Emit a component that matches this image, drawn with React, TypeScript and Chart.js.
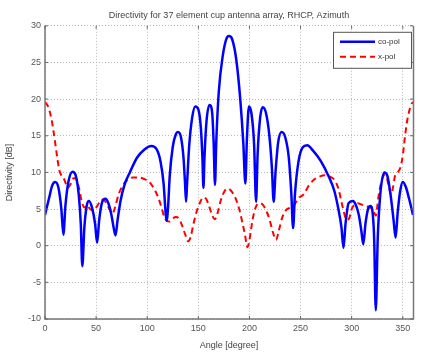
import React, { useEffect, useRef } from "react";
import { Chart, registerables } from "chart.js";

Chart.register(...registerables);

const titleText = "Directivity for 37 element cup antenna array, RHCP, Azimuth";
const xLabel = "Angle [degree]";
const yLabel = "Directivity [dB]";
const xTicks = [0, 50, 100, 150, 200, 250, 300, 350];
const yTicks = [-10, -5, 0, 5, 10, 15, 20, 25, 30];

const coAngles = [0, 4, 7, 10, 13, 16, 18, 20, 23, 27, 30, 33, 35, 36.5, 38.5, 41, 43, 46, 49, 51, 53, 56, 59, 62, 65, 67.5, 69, 71, 74, 78, 83, 90, 97, 104, 109, 113, 116, 118, 119, 120.5, 122, 125, 128, 130, 133, 135.5, 137, 138, 139, 141, 144, 147, 150, 152.5, 154, 155, 156, 158, 161, 163.5, 165, 166.3, 167.5, 170, 174, 178, 180, 183, 187, 191, 194, 196, 197.5, 199.5, 202, 204.5, 206.5, 208, 210.5, 213, 216, 219.5, 222, 223.7, 225.5, 228, 231.5, 235, 238.5, 241, 242.7, 244.5, 248, 252, 256.5, 262, 270, 278, 283, 287, 290, 292, 294, 297, 301, 304, 307, 309.5, 311.4, 313.5, 316, 318.5, 320.5, 322, 323.6, 325.5, 328, 332, 335, 338, 341, 343, 345, 347.5, 350, 353, 356, 360];
const coValues = [4.2, 6.5, 8.2, 8.7, 8.0, 5.0, 1.5, 5.5, 8.8, 10.1, 9.6, 7.0, 3.0, -2.8, 2.5, 5.6, 6.1, 5.2, 3.0, 0.4, 3.5, 6.0, 6.4, 5.8, 4.2, 2.2, 1.4, 3.5, 6.2, 8.4, 10.0, 12.0, 13.1, 13.6, 13.2, 11.5, 8.5, 4.5, 3.4, 5.5, 9.5, 13.5, 15.2, 15.5, 14.8, 12.0, 8.5, 6.0, 8.5, 13.5, 17.5, 19.0, 18.6, 16.0, 12.0, 7.9, 12.0, 17.0, 19.2, 18.2, 14.0, 8.3, 14.0, 21.0, 26.0, 28.4, 28.6, 28.2, 25.5, 20.0, 14.0, 8.5, 14.5, 19.0, 18.0, 14.0, 6.0, 12.5, 17.5, 18.9, 18.2, 15.0, 10.5, 6.0, 10.0, 14.0, 15.5, 14.8, 12.0, 7.0, 2.4, 7.0, 11.5, 13.4, 13.7, 13.0, 11.5, 9.3, 7.5, 5.0, 2.5, -0.3, 3.0, 5.8, 6.1, 5.6, 4.2, 2.0, 0.2, 3.0, 5.0, 5.4, 4.5, 1.0, -8.8, 1.0, 7.0, 10.0, 9.5, 7.0, 3.5, 1.1, 4.5, 7.5, 8.7, 8.0, 6.5, 4.2];

const xpAngles = [0, 3, 6, 8, 10, 12, 14, 16, 18, 20, 22.5, 25, 28, 30, 33, 36, 38.5, 41, 44, 47.5, 51, 54, 57, 60, 63, 66, 68.5, 72, 76, 80, 86, 92, 97, 102, 107, 111, 114, 116.5, 119, 122, 125, 128, 131, 134, 137, 140, 142.5, 145, 148, 152, 155, 158, 161, 164, 166, 168.5, 172, 175.5, 178.5, 182, 186, 190, 193, 195.5, 198, 200.5, 203, 206, 209.5, 213, 217, 220, 223, 226, 229, 232, 236, 240, 244, 248, 253, 258, 263, 268, 274, 279, 283, 287, 290, 292.5, 295, 297.5, 300, 303, 306, 310, 314, 318, 321, 323.6, 326, 329, 332, 334, 336.5, 338.5, 340.5, 342.5, 345, 347.5, 350, 352, 354, 356, 358, 360];
const xpValues = [19.6, 19.0, 17.5, 15.9, 14.0, 12.0, 10.3, 9.6, 9.3, 8.6, 7.9, 8.4, 9.2, 9.2, 8.0, 6.0, 5.2, 5.5, 5.0, 4.8, 5.4, 6.1, 6.3, 5.8, 5.0, 4.4, 5.2, 7.0, 8.2, 8.9, 9.3, 9.3, 9.1, 8.7, 7.7, 6.5, 5.2, 4.0, 3.4, 3.3, 3.7, 3.9, 3.7, 2.8, 1.6, 0.6, 1.2, 2.8, 4.5, 6.0, 6.6, 6.3, 5.2, 4.0, 3.6, 4.3, 6.2, 7.4, 7.8, 7.5, 6.6, 5.0, 3.2, 1.6, -0.2, 1.2, 3.5, 5.2, 5.8, 5.6, 4.6, 3.4, 1.8, 0.8, 2.2, 3.8, 4.9, 5.2, 5.6, 6.5, 7.0, 8.2, 9.0, 9.4, 9.6, 9.4, 9.0, 7.8, 6.0, 4.5, 3.5, 3.7, 5.0, 5.6, 5.8, 5.6, 5.4, 5.2, 4.9, 4.1, 6.5, 8.7, 9.6, 9.4, 8.0, 7.0, 8.0, 9.6, 10.0, 10.6, 12.3, 14.7, 16.8, 18.2, 19.2, 19.6];

const seriesNames = ["co-pol", "x-pol"];

const FONT = "'Liberation Sans', Arial, sans-serif";

export default function App() {
  const ref = useRef<HTMLCanvasElement | null>(null);

  useEffect(() => {
    document.body.style.margin = "0";
    const canvas = ref.current;
    if (!canvas) return;

    const framePlugin = {
      id: "frame",
      afterDatasetsDraw(chart: any) {
        const { ctx, chartArea } = chart;
        const { left, right, top, bottom } = chartArea;
        ctx.save();
        ctx.setLineDash([]);
        ctx.strokeStyle = "#777";
        ctx.lineWidth = 1.5;
        ctx.beginPath();
        ctx.moveTo(left, top);
        ctx.lineTo(left, bottom);
        ctx.lineTo(right + 0.5, bottom);
        ctx.lineTo(right + 0.5, top);
        ctx.stroke();
        // small inward tick marks
        ctx.lineWidth = 1;
        ctx.strokeStyle = "#666";
        const xs = chart.scales.x;
        const ys = chart.scales.y;
        xTicks.forEach((v) => {
          const px = xs.getPixelForValue(v);
          ctx.beginPath();
          ctx.moveTo(px, bottom);
          ctx.lineTo(px, bottom - 3);
          ctx.moveTo(px, top);
          ctx.lineTo(px, top + 3);
          ctx.stroke();
        });
        yTicks.forEach((v) => {
          const py = ys.getPixelForValue(v);
          ctx.beginPath();
          ctx.moveTo(left, py);
          ctx.lineTo(left + 3, py);
          ctx.moveTo(right, py);
          ctx.lineTo(right - 3, py);
          ctx.stroke();
        });
        ctx.restore();
      },
    };

    const legendPlugin = {
      id: "legendBox",
      afterDraw(chart: any) {
        const { ctx, chartArea } = chart;
        const x0 = chartArea.right - 80;
        const y0 = chartArea.top + 6;
        const w = 78;
        const h = 36;
        ctx.save();
        ctx.fillStyle = "#fff";
        ctx.fillRect(x0, y0, w, h);
        ctx.strokeStyle = "#555";
        ctx.lineWidth = 1;
        ctx.strokeRect(x0 + 0.5, y0 + 0.5, w, h);
        const items = [
          { color: "#0000ff", dash: [] as number[], width: 2.5 },
          { color: "#ff0000", dash: [6, 4], width: 2 },
        ];
        items.forEach((it, i) => {
          const yy = y0 + 10 + i * 15;
          ctx.strokeStyle = it.color;
          ctx.lineWidth = it.width;
          ctx.setLineDash(it.dash);
          ctx.beginPath();
          ctx.moveTo(x0 + 7, yy);
          ctx.lineTo(x0 + 42, yy);
          ctx.stroke();
          ctx.setLineDash([]);
          ctx.fillStyle = "#333";
          ctx.font = `8px ${FONT}`;
          ctx.textBaseline = "middle";
          ctx.fillText(seriesNames[i], x0 + 45, yy);
        });
        ctx.restore();
      },
    };

    const chart = new Chart(canvas, {
      type: "line",
      data: {
        datasets: [
          {
            label: seriesNames[0],
            data: coAngles.map((a, i) => ({ x: a, y: coValues[i] })),
            borderColor: "#0000ff",
            backgroundColor: "#0000ff",
            borderWidth: 2.5,
            pointRadius: 0,
            cubicInterpolationMode: "monotone",
            fill: false,
          },
          {
            label: seriesNames[1],
            data: xpAngles.map((a, i) => ({ x: a, y: xpValues[i] })),
            borderColor: "#ff0000",
            backgroundColor: "#ff0000",
            borderWidth: 2,
            borderDash: [6, 4],
            pointRadius: 0,
            cubicInterpolationMode: "monotone",
            fill: false,
          },
        ],
      },
      options: {
        animation: false,
        responsive: false,
        maintainAspectRatio: false,
        layout: { padding: { top: 0, right: 8, left: 0, bottom: 0 } },
        plugins: {
          title: {
            display: true,
            text: titleText,
            color: "#444",
            font: { family: FONT, size: 9, weight: "normal" },
            fullSize: false,
            padding: { top: 10, bottom: 5 },
          },
          legend: { display: false },
          tooltip: { enabled: false },
        },
        scales: {
          x: {
            type: "linear",
            min: 0,
            max: 360,
            afterBuildTicks: (scale: any) => {
              scale.ticks = xTicks.map((v) => ({ value: v }));
            },
            afterFit: (scale: any) => {
              scale.height = 33;
            },
            ticks: {
              color: "#555",
              font: { family: FONT, size: 9 },
              padding: 4,
              maxRotation: 0,
            },
            grid: {
              color: "#b8b8b8",
              drawTicks: false,
            },
            border: { display: false, dash: [1, 2] },
            title: {
              display: true,
              text: xLabel,
              color: "#444",
              font: { family: FONT, size: 9 },
              padding: { top: 0, bottom: 1 },
            },
          },
          y: {
            type: "linear",
            min: -10,
            max: 30,
            afterBuildTicks: (scale: any) => {
              scale.ticks = yTicks.map((v) => ({ value: v }));
            },
            afterFit: (scale: any) => {
              scale.width = 45;
            },
            ticks: {
              color: "#555",
              font: { family: FONT, size: 9 },
              padding: 4,
            },
            grid: {
              color: "#b8b8b8",
              drawTicks: false,
            },
            border: { display: false, dash: [1, 2] },
            title: {
              display: true,
              text: yLabel,
              color: "#444",
              font: { family: FONT, size: 9 },
              padding: { top: 4, bottom: 2 },
            },
          },
        },
      },
      plugins: [framePlugin, legendPlugin],
    } as any);

    return () => {
      chart.destroy();
    };
  }, []);

  return (
    <div style={{ width: 421, height: 352 }}>
      <canvas ref={ref} width={421} height={352} style={{ display: "block" }} />
    </div>
  );
}
